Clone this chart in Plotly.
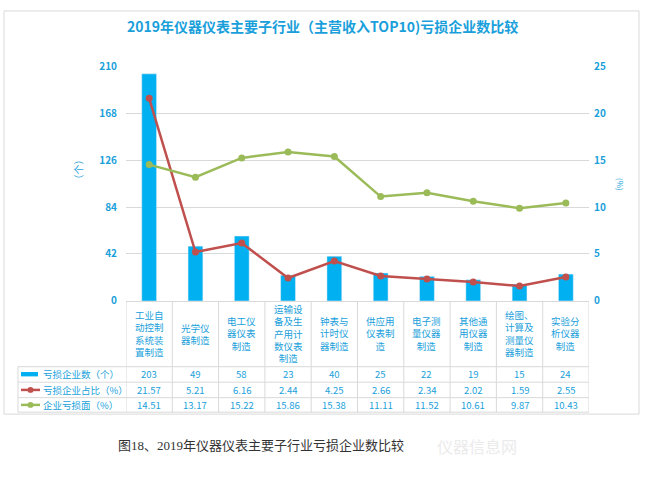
import plotly.graph_objects as go

categories = ["工业自动控制系统装置制造", "光学仪器制造", "电工仪器仪表制造",
              "运输设备及生产用计数仪表制造", "钟表与计时仪器制造", "供应用仪表制造",
              "电子测量仪器制造", "其他通用仪器制造", "绘图、计算及测量仪器制造",
              "实验分析仪器制造"]
loss_counts = [203, 49, 58, 23, 40, 25, 22, 19, 15, 24]
loss_share = [21.57, 5.21, 6.16, 2.44, 4.25, 2.66, 2.34, 2.02, 1.59, 2.55]
loss_ratio = [14.51, 13.17, 15.22, 15.86, 15.38, 11.11, 11.52, 10.61, 9.87, 10.43]
series_names = ["亏损企业数（个）", "亏损企业占比（%）", "企业亏损面（%）"]
left_ticks = [0, 42, 84, 126, 168, 210]
right_ticks = [0, 5, 10, 15, 20, 25]
title_text = "2019年仪器仪表主要子行业（主营收入TOP10)亏损企业数比较"
caption_text = "图18、2019年仪器仪表主要子行业亏损企业数比较"
watermark_text = "仪器信息网"

W, H = 645, 482
def px(x): return x / W
def py(y): return 1 - y / H

BLUE = "#00B0F0"
RED = "#C0504D"
GREEN = "#9BBB59"
TXT = "#1A9FDB"
GRID = "#D9D9D9"
FONT = "Noto Sans CJK SC"

def wrap(s, n=3):
    return "<br>".join(s[i:i + n] for i in range(0, len(s), n))

fig = go.Figure()
fig.add_trace(go.Bar(x=categories, y=loss_counts, name=series_names[0],
                     marker_color=BLUE, width=0.32, yaxis="y"))
fig.add_trace(go.Scatter(x=categories, y=loss_share, name=series_names[1],
                         mode="lines+markers", line=dict(color=RED, width=2.5),
                         marker=dict(size=7, color=RED), yaxis="y2"))
fig.add_trace(go.Scatter(x=categories, y=loss_ratio, name=series_names[2],
                         mode="lines+markers", line=dict(color=GREEN, width=2.5),
                         marker=dict(size=7, color=GREEN), yaxis="y2"))

tickfont = dict(family=FONT, size=10, color=TXT, weight="bold")
fig.update_layout(
    width=W, height=H, autosize=False,
    margin=dict(l=0, r=0, t=0, b=0),
    paper_bgcolor="white", plot_bgcolor="white",
    showlegend=False,
    font=dict(family=FONT, color=TXT),
    xaxis=dict(domain=[px(126), px(589)], range=[-0.5, 9.5], showticklabels=False,
               showgrid=False, zeroline=False, showline=True, linecolor=GRID,
               linewidth=1, ticks=""),
    yaxis=dict(domain=[py(302), py(59)], range=[0, 210], tickvals=left_ticks,
               showgrid=True, gridcolor=GRID, gridwidth=1, zeroline=False,
               showline=False, tickfont=tickfont, ticklabelstandoff=8),
    yaxis2=dict(overlaying="y", side="right", range=[0, 25], tickvals=right_ticks,
                showgrid=False, zeroline=False, showline=False, tickfont=tickfont,
                ticklabelstandoff=4),
)

shapes = []
annotations = []

def note(text, x, y, size=10, color=TXT, family=FONT, xref="paper", **kw):
    d = dict(text=text, xref=xref, yref="paper", x=x, y=y, showarrow=False,
             xanchor="center", yanchor="middle",
             font=dict(family=family, size=size, color=color))
    d.update(kw)
    annotations.append(d)

# outer border
shapes.append(dict(type="rect", xref="paper", yref="paper", x0=px(4), x1=px(639),
                   y0=py(419), y1=py(2), line=dict(color=GRID, width=1)))

# title
note("<b>" + title_text + "</b>", px(322), py(18), size=14)

# axis titles
note("（个）", px(78), py(166), size=10, textangle=-90)
note("(%)", px(620), py(181), size=8, textangle=90)

# data table grid
row_lines = [370, 386, 402, 417]
for yy in row_lines:
    shapes.append(dict(type="line", xref="paper", yref="paper", x0=px(18), x1=px(589),
                       y0=py(yy), y1=py(yy), line=dict(color=GRID, width=1)))
for k in range(len(categories) + 1):
    shapes.append(dict(type="line", xref="x", yref="paper", x0=k - 0.5, x1=k - 0.5,
                       y0=py(417), y1=py(302), line=dict(color=GRID, width=1)))
shapes.append(dict(type="line", xref="paper", yref="paper", x0=px(18), x1=px(18),
                   y0=py(417), y1=py(370), line=dict(color=GRID, width=1)))

# header labels
for c in categories:
    note(wrap(c), c, py(336), size=9.5, xref="x")

# table values
row_centers = [378, 394, 409.5]
value_rows = [[str(v) for v in loss_counts],
              ["%.2f" % v for v in loss_share],
              ["%.2f" % v for v in loss_ratio]]
for r, vals in enumerate(value_rows):
    for c, v in zip(categories, vals):
        note(v, c, py(row_centers[r]), size=9.5, xref="x")

# legend keys in table
shapes.append(dict(type="rect", xref="paper", yref="paper", x0=px(21), x1=px(38),
                   y0=py(380), y1=py(375.5), fillcolor=BLUE, line=dict(width=0)))
for r, col in [(1, RED), (2, GREEN)]:
    yc = row_centers[r]
    shapes.append(dict(type="line", xref="paper", yref="paper", x0=px(21), x1=px(40),
                       y0=py(yc), y1=py(yc), line=dict(color=col, width=2.5)))
    shapes.append(dict(type="circle", xref="paper", yref="paper", x0=px(27.5), x1=px(33.5),
                       y0=py(yc + 3), y1=py(yc - 3), fillcolor=col, line=dict(width=0)))
for r, name in enumerate(series_names):
    note(name, px(41), py(row_centers[r]), size=9.5, xanchor="left")

# caption
note(caption_text, px(261), py(452), size=13, color="#333333",
     family="Liberation Serif, Noto Sans CJK SC")
# watermark
note(watermark_text, px(477), py(452), size=16, color="#EBEBEB")

fig.update_layout(shapes=shapes, annotations=annotations)
fig.write_html("out.html",
               post_script="document.body.style.margin='0px';"
                           "document.documentElement.style.overflow='hidden';")
